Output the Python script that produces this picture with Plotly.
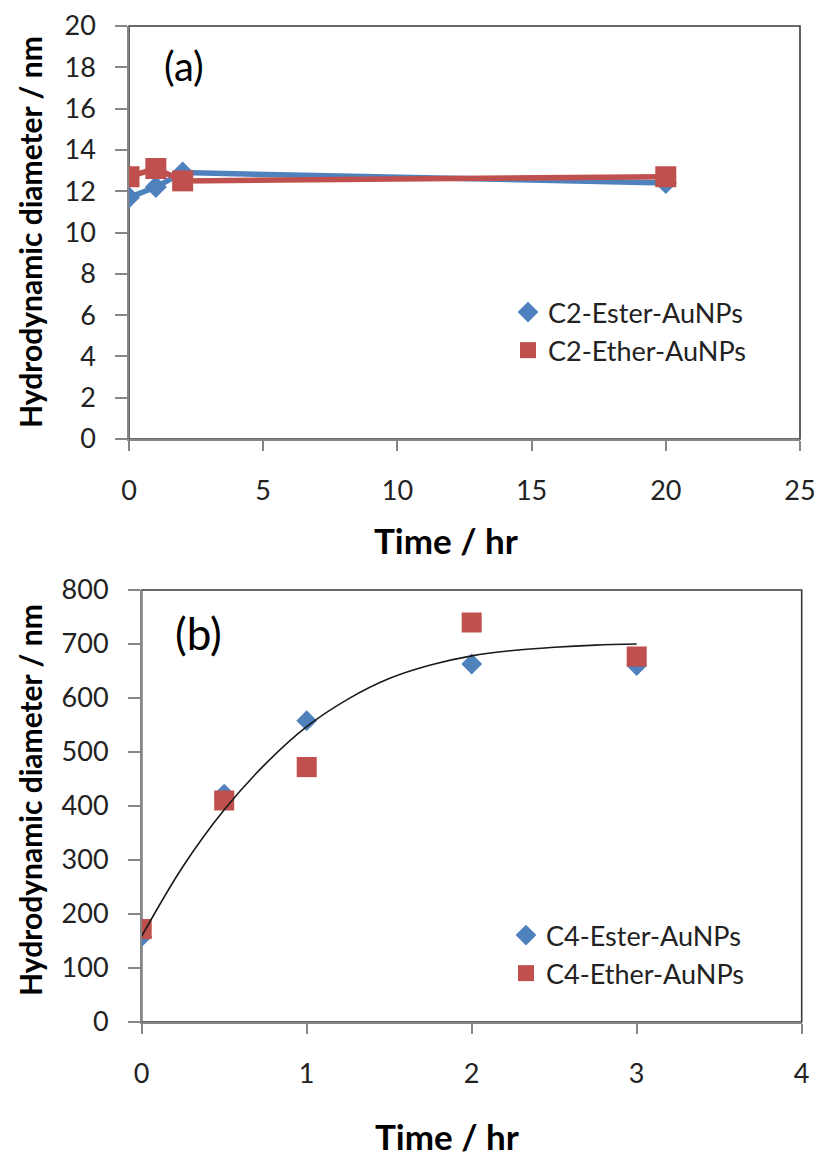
import plotly.graph_objects as go

# ---------------- data ----------------
# Panel (a)
time_a = [0, 1, 2, 20]
c2_ester = [11.7, 12.2, 12.9, 12.4]
c2_ether = [12.7, 13.1, 12.5, 12.7]

# Panel (b)
time_b = [0, 0.5, 1, 2, 3]
c4_ester = [158, 422, 558, 663, 660]
c4_ether = [172, 410, 472, 740, 677]

# Trend line
trend_x = [0, 0.25, 0.5, 0.75, 1, 1.25, 1.5, 1.75, 2, 2.25, 2.5, 2.75, 3]
trend_y = [159, 288, 393, 478, 547, 598, 636, 661, 678, 688, 694, 698, 700]

xticks_a = [0, 5, 10, 15, 20, 25]
yticks_a = [0, 2, 4, 6, 8, 10, 12, 14, 16, 18, 20]
xticks_b = [0, 1, 2, 3, 4]
yticks_b = [0, 100, 200, 300, 400, 500, 600, 700, 800]

BLUE = "#4F81BD"
RED = "#C0504D"
AXIS = "#868686"
TXT = "#222222"
FONT = "Lato"

# the page body has an 8px margin, so the figure is drawn from (8, 8)
W, H = 814, 1148

def px(v):
    return v / W

def py(v):
    return 1 - v / H

fig = go.Figure()

# ---- panel (a) traces ----
fig.add_trace(go.Scatter(x=time_a, y=c2_ester, mode="lines+markers",
                         line=dict(color=BLUE, width=5.5),
                         marker=dict(symbol="diamond", size=17, color=BLUE),
                         showlegend=False, xaxis="x", yaxis="y"))
fig.add_trace(go.Scatter(x=time_a, y=c2_ether, mode="lines+markers",
                         line=dict(color=RED, width=5.5),
                         marker=dict(symbol="square", size=21, color=RED),
                         showlegend=False, xaxis="x", yaxis="y"))
# legend entries (markers only, like the original)
fig.add_trace(go.Scatter(x=[None], y=[None], mode="markers", name="C2-Ester-AuNPs",
                         marker=dict(symbol="diamond", size=22, color=BLUE),
                         legend="legend", xaxis="x", yaxis="y"))
fig.add_trace(go.Scatter(x=[None], y=[None], mode="markers", name="C2-Ether-AuNPs",
                         marker=dict(symbol="square", size=26, color=RED),
                         legend="legend", xaxis="x", yaxis="y"))

# ---- panel (b) traces ----
fig.add_trace(go.Scatter(x=time_b, y=c4_ester, mode="markers", name="C4-Ester-AuNPs",
                         marker=dict(symbol="diamond", size=16, color=BLUE),
                         legend="legend2", xaxis="x2", yaxis="y2"))
fig.add_trace(go.Scatter(x=time_b, y=c4_ether, mode="markers", name="C4-Ether-AuNPs",
                         marker=dict(symbol="square", size=20, color=RED),
                         legend="legend2", xaxis="x2", yaxis="y2"))
fig.add_trace(go.Scatter(x=trend_x, y=trend_y, mode="lines", line_shape="spline",
                         line=dict(color="#1a1a1a", width=1.6),
                         showlegend=False, xaxis="x2", yaxis="y2"))

tickfont = dict(family=FONT, size=27, color=TXT)

def xax(domain, rng, ticks, anchor):
    return dict(domain=domain, range=rng, tickvals=ticks, ticktext=[str(t) for t in ticks],
                showgrid=False, zeroline=False, showline=True, linecolor=AXIS, linewidth=1.5,
                ticks="outside", ticklen=10, tickwidth=1.5, tickcolor=AXIS,
                tickfont=tickfont, ticklabelstandoff=17, anchor=anchor, fixedrange=True,
                automargin=False)

def yax(domain, rng, ticks, anchor):
    return dict(domain=domain, range=rng, tickvals=ticks, ticktext=[str(t) for t in ticks],
                showgrid=False, zeroline=False, showline=True, linecolor=AXIS, linewidth=1.5,
                ticks="outside", ticklen=12, tickwidth=1.5, tickcolor=AXIS,
                tickfont=tickfont, ticklabelstandoff=14, anchor=anchor, fixedrange=True,
                automargin=False)

xa_dom = [px(121), px(792)]
ya_dom = [py(431), py(18)]
xb_dom = [px(133.7), px(793.7)]
yb_dom = [py(1014), py(582)]

shapes = [
    dict(type="rect", xref="x domain", yref="y domain", x0=0, x1=1, y0=0, y1=1,
         line=dict(color="#3a3a3a", width=1.6), layer="below"),
    dict(type="rect", xref="x2 domain", yref="y2 domain", x0=0, x1=1, y0=0, y1=1,
         line=dict(color="#3a3a3a", width=1.6), layer="below"),
]

title_font = dict(family=FONT, size=35, color="#000000", weight="bold")
ytitle_font = dict(family=FONT, size=30, color="#000000", weight="bold")

def ann(text, x, y, font, angle=0):
    return dict(text=text, x=px(x), y=py(y), xref="paper", yref="paper",
                xanchor="center", yanchor="middle", showarrow=False,
                textangle=angle, font=font)

annotations = [
    ann("(a)", 176, 58, dict(family=FONT, size=40, color="#000000")),
    ann("(b)", 190, 625, dict(family=FONT, size=44, color="#000000")),
    ann("Time / hr", 438, 532, title_font),
    ann("Time / hr", 439, 1128, title_font),
    ann("Hydrodynamic diameter / nm", 22, 224, ytitle_font, -90),
    ann("Hydrodynamic diameter / nm", 22, 792, ytitle_font, -90),
]

legend_font = dict(family=FONT, size=27, color=TXT)

fig.update_layout(
    width=W, height=H,
    margin=dict(l=0, r=0, t=0, b=0, autoexpand=False),
    paper_bgcolor="white", plot_bgcolor="white",
    xaxis=xax(xa_dom, [0, 25], xticks_a, "y"),
    yaxis=yax(ya_dom, [0, 20], yticks_a, "x"),
    xaxis2=xax(xb_dom, [0, 4], xticks_b, "y2"),
    yaxis2=yax(yb_dom, [0, 800], yticks_b, "x2"),
    shapes=shapes,
    annotations=annotations,
    legend=dict(x=px(500), y=py(280), xanchor="left", yanchor="top",
                font=legend_font, bgcolor="rgba(0,0,0,0)", itemsizing="trace",
                borderwidth=0, tracegroupgap=0),
    legend2=dict(x=px(498), y=py(903), xanchor="left", yanchor="top",
                 font=legend_font, bgcolor="rgba(0,0,0,0)", itemsizing="trace",
                 borderwidth=0, tracegroupgap=0),
    showlegend=True,
)

fig.write_html("out.html")
